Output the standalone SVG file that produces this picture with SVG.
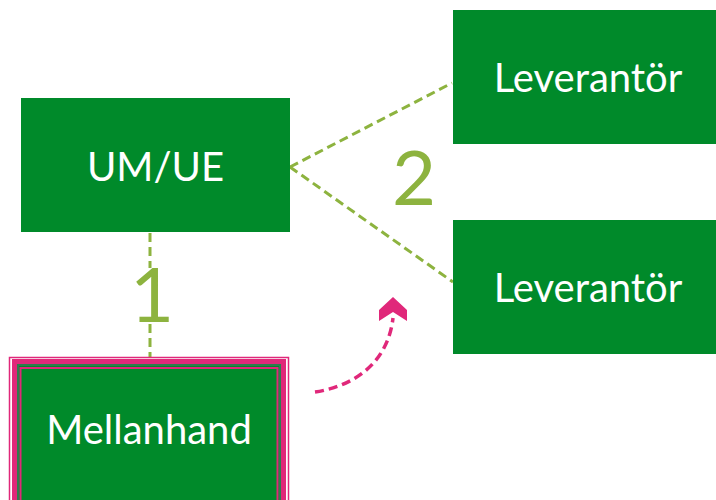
<svg xmlns="http://www.w3.org/2000/svg" width="716" height="500" viewBox="0 0 716 500">
<style>
.box{fill:#008A2A;}
.lbl{font-family:Lato,"Liberation Sans",sans-serif;font-size:40px;fill:#FFFFFF;text-anchor:middle;}
.num{font-family:Lato,"Liberation Sans",sans-serif;font-size:76px;fill:#8DB33F;text-anchor:middle;}
.conn{stroke:#8DB33F;stroke-width:3;stroke-dasharray:9,5;fill:none;}
.pk{stroke:#E0287A;fill:none;}
</style>
<rect width="716" height="500" fill="#FFFFFF"/>
<g id="connectors">
<line class="conn" x1="150" y1="233" x2="150" y2="268"/>
<line class="conn" x1="150" y1="324" x2="150" y2="357"/>
<line class="conn" x1="290" y1="167" x2="452" y2="83"/>
<line class="conn" x1="290" y1="167" x2="453" y2="282"/>
<path d="M315,392 C355,386 388,362 393,318" stroke="#E0287A" stroke-width="3.5" stroke-dasharray="9,5" fill="none"/>
<path d="M379,321 L379,310 L393,297 L407,310 L407,321 L393,312 Z" fill="#E0287A"/>
</g>
<g id="umue">
<rect class="box" x="21" y="98" width="269" height="134"/>
<text class="lbl" x="155.5" y="181">UM/UE</text>
</g>
<g id="lev1">
<rect class="box" x="453" y="10" width="270" height="134"/>
<text class="lbl" x="588" y="92">Leverantör</text>
</g>
<g id="lev2">
<rect class="box" x="453" y="220" width="270" height="134"/>
<text class="lbl" x="588" y="302">Leverantör</text>
</g>
<g id="mellanhand">
<rect class="pk" x="9.5" y="357.5" width="279" height="160" stroke-width="1.5"/>
<rect class="pk" x="14.5" y="361.5" width="269" height="160" stroke-width="5"/>
<rect x="17" y="364" width="264" height="160" fill="#2E7D4F"/>
<rect x="19" y="366" width="260" height="160" fill="#008A2A"/>
<rect class="pk" x="20.5" y="368" width="257" height="160" stroke-width="2"/>
<text class="lbl" x="149" y="444">Mellanhand</text>
</g>
<g id="labels">
<text class="num" x="152" y="322">1</text>
<text class="num" x="414" y="205">2</text>
</g>
</svg>
